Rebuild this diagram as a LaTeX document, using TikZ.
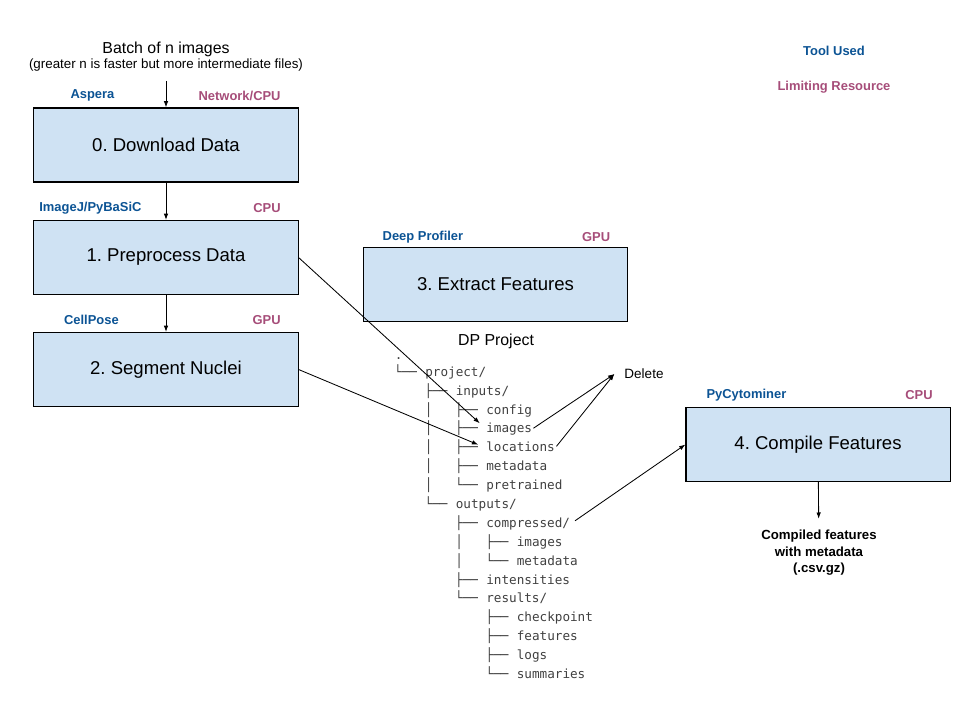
\documentclass[tikz,border=0pt]{standalone}
\usepackage{fontspec}
\setmainfont{Liberation Sans}
\setmonofont{DejaVu Sans Mono}
\usepackage{xcolor}
\usetikzlibrary{positioning,calc,arrows.meta}

\definecolor{toolblue}{RGB}{11,83,148}
\definecolor{resmagenta}{RGB}{166,77,121}
\definecolor{stagefill}{RGB}{207,226,243}

% one row of the directory tree: name, x, y, prefix, entry
\newcommand{\treerow}[5]{%
  \node[tree] (#1) at (#2,#3) {#5};
  \node[tree, anchor=east] (#1-pre) at (#1.west) {#4~\null};}

\begin{document}
\frenchspacing
\begin{tikzpicture}[x=0.025cm, y=-0.025cm,
    stage/.style={draw, line width=0.75pt, fill=stagefill, minimum width=6.6cm, minimum height=1.85cm,
        font=\fontsize{13.2}{16}\selectfont},
    tool/.style={text=toolblue, font=\bfseries\fontsize{9.2}{11}\selectfont},
    res/.style={text=resmagenta, font=\bfseries\fontsize{9.2}{11}\selectfont},
    tree/.style={anchor=west, inner sep=0pt, text height=1ex, text depth=0pt,
        font=\ttfamily\fontsize{9}{11}\selectfont, text=black!75},
    arr/.style={-{Latex[length=4.5pt,width=3.2pt]}, line width=0.6pt}]

    \useasboundingbox (0,0) rectangle (960,720);

    % input batch
    \node[font=\fontsize{11.3}{13}\selectfont] (batch) at (166,49) {Batch of n images};
    \node[font=\fontsize{9.5}{12}\selectfont] (batchnote) at (166,65.5) {(greater n is faster but more intermediate files)};

    % pipeline stages
    \node[stage] (download) at (166,145) {0. Download Data};
    \node[stage] (preproc) at (166,257.5) {1. Preprocess Data};
    \node[stage] (segment) at (166,369.5) {2. Segment Nuclei};
    \node[stage] (extract) at (495.5,284.5) {3. Extract Features};
    \node[stage] (compile) at (818,444.5) {4. Compile Features};

    % tools and limiting resources
    \node[tool] (download-tool) at ($(download.north west)+(59,-12)$) {Aspera};
    \node[res, anchor=east] (download-res) at ($(download.north east)+(-13,-12)$) {Network/CPU};
    \node[tool] (preproc-tool) at ($(preproc.north west)+(57,-12)$) {ImageJ/PyBaSiC};
    \node[res, anchor=east] (preproc-res) at ($(preproc.north east)+(-13,-12)$) {CPU};
    \node[tool] (segment-tool) at ($(segment.north west)+(58,-12)$) {CellPose};
    \node[res, anchor=east] (segment-res) at ($(segment.north east)+(-13,-12)$) {GPU};
    \node[tool] (extract-tool) at ($(extract.north west)+(60,-10)$) {Deep Profiler};
    \node[res, anchor=east] (extract-res) at ($(extract.north east)+(-13,-10)$) {GPU};
    \node[tool] (compile-tool) at ($(compile.north west)+(61,-12)$) {PyCytominer};
    \node[res, anchor=east] (compile-res) at ($(compile.north east)+(-13,-12)$) {CPU};

    % legend
    \node[tool] (legend-tool) at (834,50.5) {Tool Used};
    \node[res] (legend-res) at (834,87) {Limiting Resource};

    % DP project tree
    \node[font=\fontsize{11.3}{13}\selectfont] (dptitle) at (496,341) {DP Project};
    \node[tree] (root) at (394.5,356) {.};
    \treerow{project}{425}{373}{└──}{project/}
    \treerow{inputs}{455.5}{392}{├──}{inputs/}
    \treerow{config}{486}{410.5}{│~~~├──}{config}
    \treerow{images}{486}{429}{│~~~├──}{images}
    \treerow{locations}{486}{448}{│~~~├──}{locations}
    \treerow{inmeta}{486}{467}{│~~~├──}{metadata}
    \treerow{pretrained}{486}{486}{│~~~└──}{pretrained}
    \treerow{outputs}{455.5}{505}{└──}{outputs/}
    \treerow{compressed}{486}{524}{├──}{compressed/}
    \treerow{cimages}{516.5}{543}{│~~~├──}{images}
    \treerow{cmeta}{516.5}{562}{│~~~└──}{metadata}
    \treerow{intensities}{486}{580.5}{├──}{intensities}
    \treerow{results}{486}{599}{└──}{results/}
    \treerow{checkpoint}{516.5}{618}{├──}{checkpoint}
    \treerow{features}{516.5}{637}{├──}{features}
    \treerow{logs}{516.5}{656}{├──}{logs}
    \treerow{summaries}{516.5}{675}{└──}{summaries}

    \node[font=\fontsize{9.6}{12}\selectfont, inner xsep=7pt] (delete) at (644,374) {Delete};

    \node[font=\bfseries\fontsize{9.4}{11.7}\selectfont, align=center, inner ysep=8pt] (output) at (819,553)
        {Compiled features\\with metadata\\(.csv.gz)};

    % connectors
    \draw[arr, shorten <=3pt] (batchnote) -- (download);
    \draw[arr] (download) -- (preproc);
    \draw[arr] (preproc) -- (segment);
    \draw[arr, shorten >=6pt] (preproc.east) -- (images.west);
    \draw[arr, shorten >=6pt] (segment.east) -- (locations.west);
    \draw[arr, shorten <=1pt] (images.east) -- (delete.west);
    \draw[arr, shorten <=1.5pt] (locations.east) -- (delete.west);
    \draw[arr, shorten <=4pt] (compressed.east) -- (compile.west);
    \draw[arr] (compile) -- (output);
\end{tikzpicture}
\end{document}
